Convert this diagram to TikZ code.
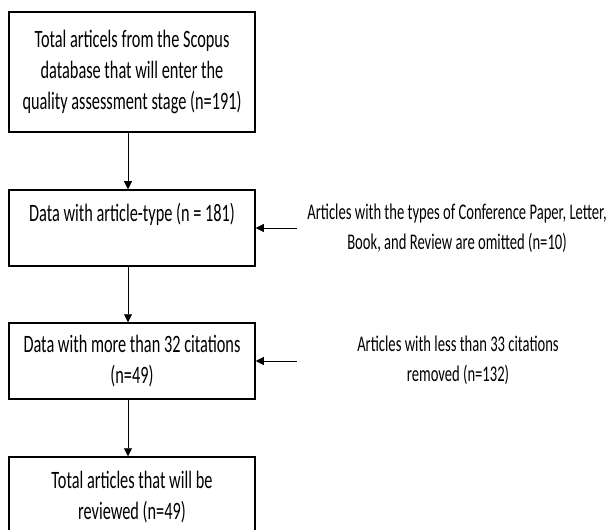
\documentclass[tikz,border=0pt]{standalone}
\usepackage{fontspec}
\setmainfont{Carlito}
\usetikzlibrary{arrows.meta}
\newcommand\nx[1]{\scalebox{0.652}[1]{#1}}
\begin{document}
\begin{tikzpicture}[x=1pt,y=-1pt,
  box/.style={draw, line width=1.5pt, minimum width=246pt, inner sep=0pt, align=center, font=\fontsize{25}{31}\selectfont},
  side/.style={align=center, inner sep=0pt, font=\fontsize{22.4}{30}\selectfont},
  arr/.style={line width=0.8pt, -{Triangle[length=8pt,width=8pt]}}]
\useasboundingbox (0,0) rectangle (609,529);
\clip (0,0) rectangle (609,529);
\fill[white] (0,0) rectangle (609,529);
\node[box, minimum height=120pt] (b1) at (132,72) {\nx{Total articels from the Scopus}\\\nx{database that will enter the}\\\nx{quality assessment stage (n=191)}};
\node[box, minimum height=76pt] (b2) at (132,228) {\nx{Data with article-type (n = 181)}\\[-10pt]\strut};
\node[box, minimum height=76pt] (b3) at (132,361) {\nx{Data with more than 32 citations}\\\nx{(n=49)}};
\node[box, minimum height=80pt] (b4) at (132,497) {\nx{Total articles that will be}\\\nx{reviewed (n=49)}};
\node[side] (t1) at (457,228) {\nx{Articles with the types of Conference Paper, Letter,}\\\nx{Book, and Review are omitted (n=10)}};
\node[side] (t2) at (458,360) {\nx{Articles with less than 33 citations}\\\nx{removed (n=132)}};
\coordinate (s1) at (297,228);
\coordinate (s2) at (297,361);
\draw[arr] ([xshift=-4pt]b1.south) -- ([xshift=-4pt]b2.north);
\draw[arr] ([xshift=-4pt]b2.south) -- ([xshift=-4pt]b3.north);
\draw[arr] ([xshift=-4pt]b3.south) -- ([xshift=-4pt]b4.north);
\draw[arr] (s1) -- (b2.east);
\draw[arr] (s2) -- (b3.east);
\end{tikzpicture}
\end{document}
